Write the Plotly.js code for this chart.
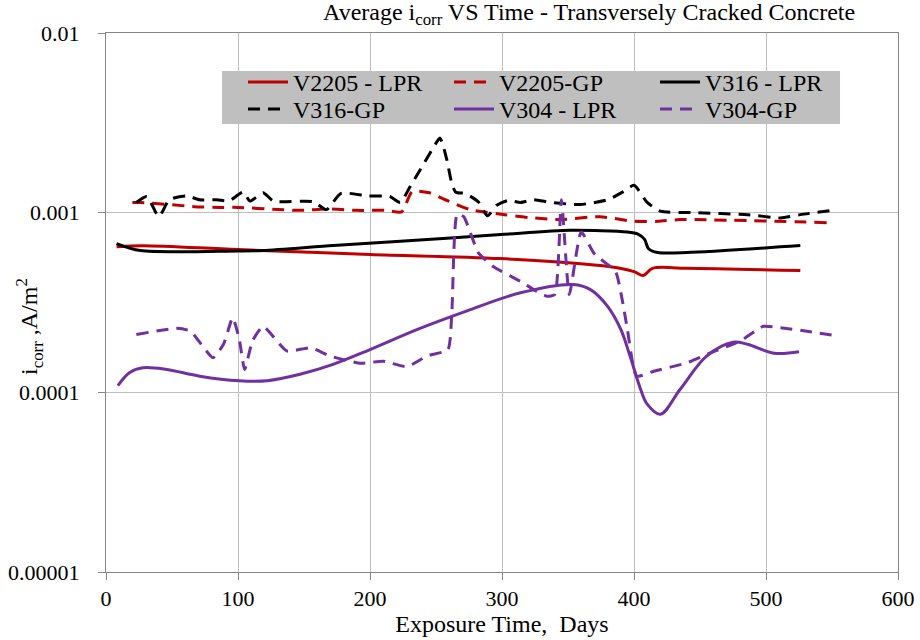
<!DOCTYPE html>
<html>
<head>
<meta charset="utf-8">
<script src="https://cdn.plot.ly/plotly-3.0.1.min.js"></script>
<style>
html,body{margin:0;padding:0;background:#fff;}
#chart{width:920px;height:640px;}
</style>
</head>
<body>
<div id="chart"></div>
<script>
// ---- data ----
const seriesNames = ["V2205 - LPR", "V2205-GP", "V316 - LPR", "V316-GP", "V304 - LPR", "V304-GP"];

const v2205LprDays = [8, 28, 100, 200, 299, 382, 400, 407, 414, 440, 526];
const v2205LprIcorr = [6.47e-4, 6.55e-4, 6.23e-4, 5.85e-4, 5.55e-4, 5.0e-4, 4.7e-4, 4.47e-4, 4.9e-4, 4.9e-4, 4.76e-4];

const v2205GpDays = [20, 26, 48, 67, 86, 100, 130, 150, 167, 190, 213, 224, 232, 245, 257, 276, 302, 320, 344, 374, 400, 418, 435, 546];
const v2205GpIcorr = [1.14e-3, 1.14e-3, 1.11e-3, 1.08e-3, 1.07e-3, 1.07e-3, 1.04e-3, 1.03e-3, 1.05e-3, 1.03e-3, 1.03e-3, 1.01e-3, 1.31e-3, 1.29e-3, 1.18e-3, 1.04e-3, 9.75e-4, 9.4e-4, 9.15e-4, 9.5e-4, 8.95e-4, 8.95e-4, 9.15e-4, 8.8e-4];

const v316LprDays = [8, 26, 100, 119, 172, 223, 299, 352, 395, 403, 408, 411, 418, 440, 526];
const v316LprIcorr = [6.73e-4, 6.15e-4, 6.12e-4, 6.15e-4, 6.56e-4, 6.93e-4, 7.55e-4, 7.97e-4, 7.8e-4, 7.6e-4, 7.1e-4, 6.3e-4, 6.0e-4, 6.0e-4, 6.56e-4];

const v316GpDays = [23, 31, 40, 48, 61, 71, 84, 93, 104, 109, 119, 127, 157, 167, 178, 198, 215, 223, 230, 248, 253, 258, 262, 265, 272, 282, 289, 296, 305, 314, 324, 337, 359, 380, 392, 400, 410, 420, 445, 486, 511, 526, 551];
const v316GpIcorr = [1.14e-3, 1.23e-3, 9.5e-4, 1.18e-3, 1.24e-3, 1.18e-3, 1.18e-3, 1.16e-3, 1.30e-3, 1.16e-3, 1.29e-3, 1.16e-3, 1.15e-3, 1.04e-3, 1.28e-3, 1.24e-3, 1.23e-3, 1.14e-3, 1.38e-3, 2.3e-3, 2.6e-3, 2.0e-3, 1.45e-3, 1.3e-3, 1.28e-3, 1.15e-3, 9.6e-4, 1.1e-3, 1.17e-3, 1.14e-3, 1.18e-3, 1.14e-3, 1.11e-3, 1.18e-3, 1.31e-3, 1.42e-3, 1.14e-3, 1.02e-3, 1.0e-3, 9.75e-4, 9.35e-4, 9.75e-4, 1.03e-3];

const v304LprDays = [9, 18, 28, 46, 71, 101, 122, 147, 172, 200, 236, 273, 314, 354, 367, 380, 390, 397, 405, 410, 420, 435, 455, 475, 486, 506, 525];
const v304LprIcorr = [1.09e-4, 1.29e-4, 1.37e-4, 1.34e-4, 1.23e-4, 1.16e-4, 1.16e-4, 1.26e-4, 1.43e-4, 1.73e-4, 2.24e-4, 2.83e-4, 3.58e-4, 3.98e-4, 3.73e-4, 3.01e-4, 2.24e-4, 1.59e-4, 1.04e-4, 8.6e-5, 7.55e-5, 1.04e-4, 1.59e-4, 1.9e-4, 1.85e-4, 1.65e-4, 1.68e-4];

const v304GpDays = [23, 54, 64, 81, 89, 96, 101, 105, 111, 119, 137, 155, 170, 193, 210, 228, 243, 259, 262, 266, 271, 282, 293, 314, 324, 334, 340, 345, 351, 360, 370, 386, 391, 395, 402, 415, 440, 458, 481, 498, 511, 531, 554];
const v304GpIcorr = [2.10e-4, 2.27e-4, 2.19e-4, 1.56e-4, 1.85e-4, 2.6e-4, 1.97e-4, 1.34e-4, 1.93e-4, 2.33e-4, 1.70e-4, 1.77e-4, 1.59e-4, 1.45e-4, 1.49e-4, 1.39e-4, 1.59e-4, 1.73e-4, 2.78e-4, 9.8e-4, 9.5e-4, 6.0e-4, 5.03e-4, 4.15e-4, 3.73e-4, 3.43e-4, 3.5e-4, 1.18e-3, 3.5e-4, 7.8e-4, 5.9e-4, 4.7e-4, 3.3e-4, 2.24e-4, 1.23e-4, 1.31e-4, 1.46e-4, 1.66e-4, 1.94e-4, 2.33e-4, 2.29e-4, 2.19e-4, 2.06e-4];

const xTickVals = [0, 100, 200, 300, 400, 500, 600];
const yTickVals = [1e-5, 1e-4, 1e-3, 1e-2];
const yTickText = ["0.00001", "0.0001", "0.001", "0.01"];

// ---- styling ----
const RED = "#C00000", BLACK = "#000000", PURPLE = "#7030A0";
const DASH = "12px,8px";
const LW = 3;
const FONT = "'Liberation Serif', 'DejaVu Serif', serif";

function tr(name, x, y, color, dash, smooth, legendId) {
  return {
    type: "scatter", mode: "lines", name: name, x: x, y: y, legend: legendId,
    line: {color: color, width: LW, dash: dash, shape: "spline", smoothing: smooth},
    hoverinfo: "skip"
  };
}

const data = [
  tr(seriesNames[0], v2205LprDays, v2205LprIcorr, RED, "solid", 1, "legend"),
  tr(seriesNames[1], v2205GpDays, v2205GpIcorr, RED, DASH, 0.6, "legend"),
  tr(seriesNames[2], v316LprDays, v316LprIcorr, BLACK, "solid", 0.8, "legend"),
  tr(seriesNames[3], v316GpDays, v316GpIcorr, BLACK, DASH, 0.6, "legend2"),
  tr(seriesNames[4], v304LprDays, v304LprIcorr, PURPLE, "solid", 1, "legend2"),
  tr(seriesNames[5], v304GpDays, v304GpIcorr, PURPLE, DASH, 0.5, "legend2")
];

function legendRow(yTop) {
  return {
    orientation: "h", x: 0.173, y: yTop, xanchor: "left", yanchor: "top",
    bgcolor: "rgba(0,0,0,0)", borderwidth: 0,
    font: {family: FONT, size: 24, color: "#000"},
    entrywidth: 151, entrywidthmode: "pixels", itemwidth: 40
  };
}

const layout = {
  width: 920, height: 640,
  margin: {l: 106, r: 22, t: 33, b: 68},
  paper_bgcolor: "#fff", plot_bgcolor: "#fff",
  font: {family: FONT, size: 22, color: "#000"},
  showlegend: true,
  legend: legendRow(0.950),
  legend2: legendRow(0.900),
  shapes: [{
    type: "rect", xref: "paper", yref: "paper",
    x0: 0.1465, x1: 0.9268, y0: 0.8312, y1: 0.9295,
    fillcolor: "#BFBFBF", line: {width: 0}, layer: "above"
  }],
  title: {
    text: "Average i<sub>corr</sub> VS Time - Transversely Cracked Concrete",
    font: {family: FONT, size: 24, color: "#000"},
    x: 0.61, xanchor: "center", xref: "paper",
    y: 0.995, yanchor: "top"
  },
  xaxis: {
    range: [0, 600], tickvals: xTickVals, ticks: "outside", ticklen: 7,
    tickcolor: "#868686", showline: true, linecolor: "#868686", linewidth: 1,
    mirror: true, showgrid: true, gridcolor: "#BFBFBF", gridwidth: 1,
    zeroline: false, tickfont: {family: FONT, size: 22},
    title: {text: "Exposure Time,  Days", font: {family: FONT, size: 24}, standoff: 2}
  },
  yaxis: {
    type: "log", range: [-5, -2], tickvals: yTickVals, ticktext: yTickText,
    ticks: "outside", ticklen: 7, tickcolor: "#868686",
    showline: true, linecolor: "#868686", linewidth: 1, mirror: true,
    showgrid: true, gridcolor: "#BFBFBF", gridwidth: 1, zeroline: false,
    tickfont: {family: FONT, size: 22}, ticklabelstandoff: 14
  },
  annotations: [{
    text: "i<sub>corr</sub> ,A/m<sup>2</sup>",
    xref: "paper", yref: "paper", x: -0.097, y: 0.455,
    xanchor: "center", yanchor: "middle", textangle: -90,
    showarrow: false, font: {family: FONT, size: 24, color: "#000"}
  }]
};

Plotly.newPlot("chart", data, layout, {displayModeBar: false, staticPlot: true});
</script>
</body>
</html>
